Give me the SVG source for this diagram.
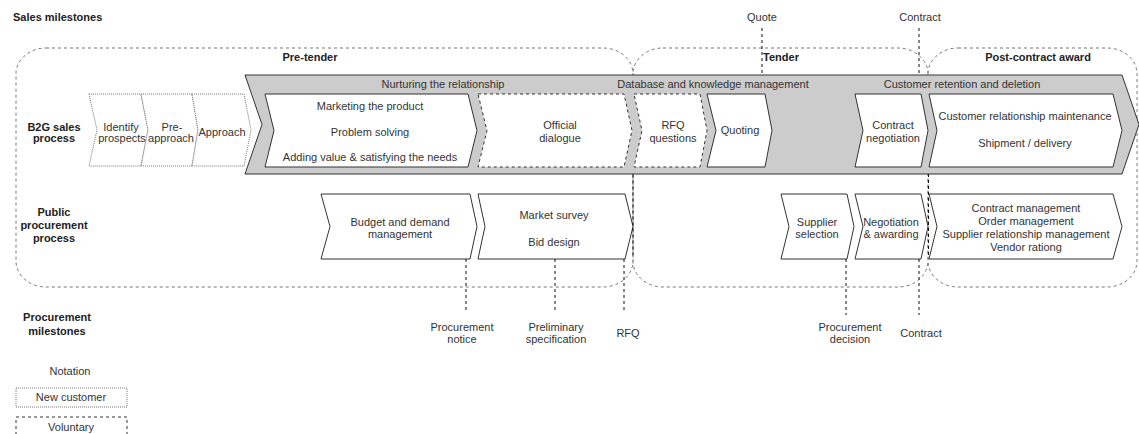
<svg xmlns="http://www.w3.org/2000/svg" width="1139" height="434" viewBox="0 0 1139 434">
  <style>
    text { font-family: "Liberation Sans", Arial, sans-serif; font-size: 11px; fill: #333; }
    .b { font-weight: bold; fill: #222; }
    .c { text-anchor: middle; }
    .region { fill: none; stroke: #777; stroke-width: 1; stroke-dasharray: 3 3; }
    .band { fill: #ccc; stroke: #333; stroke-width: 1; }
    .solid { fill: #fff; stroke: #333; stroke-width: 1; }
    .vol { fill: #fff; stroke: #333; stroke-width: 1; stroke-dasharray: 3 3; }
    .newc { fill: #fff; stroke: #777; stroke-width: 1; stroke-dasharray: 1 1; }
    .ms { fill: none; stroke: #111; stroke-width: 1; stroke-dasharray: 3 3; }
  </style>

  <!-- phase regions -->
  <g id="pre-tender">
    <rect class="region" x="16" y="48" width="617" height="239" rx="30" ry="26"/>
    <text class="b c" x="310" y="61">Pre-tender</text>
  </g>
  <g id="tender">
    <rect class="region" x="633" y="48" width="295" height="239" rx="30" ry="26"/>
    <text class="b c" x="781" y="61">Tender</text>
  </g>
  <g id="post-contract">
    <rect class="region" x="928" y="48" width="209" height="239" rx="30" ry="26"/>
    <text class="b c" x="1038" y="61">Post-contract award</text>
  </g>

  <!-- row labels -->
  <g id="row-labels">
    <text class="b" x="13" y="21">Sales milestones</text>
    <text class="b c" x="54" y="131">B2G sales</text>
    <text class="b c" x="54" y="142">process</text>
    <text class="b c" x="54" y="216">Public</text>
    <text class="b c" x="54" y="229">procurement</text>
    <text class="b c" x="54" y="242">process</text>
    <text class="b c" x="57" y="321">Procurement</text>
    <text class="b c" x="57" y="335">milestones</text>
  </g>

  <!-- new-customer steps -->
  <g id="identify-prospects">
    <polygon class="newc" points="89,94 141,94 148,130 141,166 89,166 97,130"/>
    <text class="c" x="121" y="131">Identify</text>
    <text class="c" x="122" y="142">prospects</text>
  </g>
  <g id="pre-approach">
    <polygon class="newc" points="141,94 192,94 198,130 192,166 141,166 148,130"/>
    <text class="c" x="172" y="131">Pre-</text>
    <text class="c" x="171" y="142">approach</text>
  </g>
  <g id="approach">
    <polygon class="newc" points="192,94 244,94 251,130 244,166 192,166 198,130"/>
    <text class="c" x="222" y="136">Approach</text>
  </g>

  <!-- B2G sales process band -->
  <g id="sales-band">
    <polygon class="band" points="245,75 1122,75 1139,124.5 1122,174 245,174 262,124.5"/>
    <text class="c" x="443" y="88">Nurturing the relationship</text>
    <text class="c" x="713" y="88">Database and knowledge management</text>
    <text class="c" x="962" y="88">Customer retention and deletion</text>
  </g>
  <g id="marketing">
    <polygon class="solid" points="265,94 468,94 477,130.5 468,167 265,167 274,130.5"/>
    <text class="c" x="370" y="110">Marketing the product</text>
    <text class="c" x="370" y="136">Problem solving</text>
    <text class="c" x="370" y="161">Adding value &amp; satisfying the needs</text>
  </g>
  <g id="official-dialogue">
    <polygon class="vol" points="478,94 624,94 632,130.5 624,167 478,167 487,130.5"/>
    <text class="c" x="560" y="129">Official</text>
    <text class="c" x="560" y="142">dialogue</text>
  </g>
  <g id="rfq-questions">
    <polygon class="vol" points="634,94 700,94 707,130.5 700,167 634,167 642,130.5"/>
    <text class="c" x="673" y="129">RFQ</text>
    <text class="c" x="673" y="142">questions</text>
  </g>
  <g id="quoting">
    <polygon class="solid" points="707,94 765,94 772,130.5 765,167 707,167 716,130.5"/>
    <text class="c" x="740" y="134">Quoting</text>
  </g>
  <g id="contract-negotiation">
    <polygon class="solid" points="855,94 921,94 928,130.5 921,167 855,167 863,130.5"/>
    <text class="c" x="893" y="129">Contract</text>
    <text class="c" x="893" y="142">negotiation</text>
  </g>
  <g id="customer-relationship">
    <polygon class="solid" points="929,94 1113,94 1122,130.5 1113,167 929,167 937,130.5"/>
    <text class="c" x="1025" y="120">Customer relationship maintenance</text>
    <text class="c" x="1025" y="147">Shipment / delivery</text>
  </g>

  <!-- public procurement process -->
  <g id="budget">
    <polygon class="solid" points="321,194 470,194 477,226.5 470,259 321,259 330,226.5"/>
    <text class="c" x="400" y="226">Budget and demand</text>
    <text class="c" x="400" y="238">management</text>
  </g>
  <g id="market-survey">
    <polygon class="solid" points="478,194 625,194 633,226.5 625,259 478,259 485,226.5"/>
    <text class="c" x="554" y="219">Market survey</text>
    <text class="c" x="554" y="246">Bid design</text>
  </g>
  <g id="supplier-selection">
    <polygon class="solid" points="781,194 847,194 854,226.5 847,259 781,259 789,226.5"/>
    <text class="c" x="817" y="226">Supplier</text>
    <text class="c" x="817" y="238">selection</text>
  </g>
  <g id="negotiation-awarding">
    <polygon class="solid" points="855,194 921,194 928,226.5 921,259 855,259 863,226.5"/>
    <text class="c" x="891" y="226">Negotiation</text>
    <text class="c" x="891" y="238">&amp; awarding</text>
  </g>
  <g id="contract-management">
    <polygon class="solid" points="929,194 1113,194 1122,226.5 1113,259 929,259 937,226.5"/>
    <text class="c" x="1026" y="212">Contract management</text>
    <text class="c" x="1026" y="225">Order management</text>
    <text class="c" x="1026" y="238">Supplier relationship management</text>
    <text class="c" x="1026" y="251">Vendor rationg</text>
  </g>

  <!-- milestone markers -->
  <g id="connectors">
    <line class="ms" x1="762" y1="28" x2="762" y2="75"/>
    <line class="ms" x1="919" y1="28" x2="919" y2="75"/>
    <line class="ms" x1="633" y1="174" x2="633" y2="257"/>
    <line class="ms" x1="928.5" y1="174" x2="928.5" y2="258"/>
    <line class="ms" x1="466" y1="259" x2="466" y2="313"/>
    <line class="ms" x1="555" y1="259" x2="555" y2="313"/>
    <line class="ms" x1="624" y1="259" x2="624" y2="313"/>
    <line class="ms" x1="846" y1="259" x2="846" y2="315"/>
    <line class="ms" x1="919" y1="259" x2="919" y2="315"/>
  </g>

  <g id="milestone-labels">
    <text class="c" x="762" y="21">Quote</text>
    <text class="c" x="920" y="21">Contract</text>
    <text class="c" x="462" y="331">Procurement</text>
    <text class="c" x="462" y="343">notice</text>
    <text class="c" x="556" y="331">Preliminary</text>
    <text class="c" x="556" y="343">specification</text>
    <text class="c" x="628" y="337">RFQ</text>
    <text class="c" x="850" y="331">Procurement</text>
    <text class="c" x="850" y="343">decision</text>
    <text class="c" x="921" y="337">Contract</text>
  </g>

  <!-- notation legend -->
  <g id="notation">
    <text class="c" x="70" y="375">Notation</text>
  </g>
  <g id="legend-new-customer">
    <rect class="newc" x="16" y="388" width="111" height="19"/>
    <text class="c" x="71" y="401">New customer</text>
  </g>
  <g id="legend-voluntary">
    <rect class="vol" x="16" y="417" width="111" height="24"/>
    <text class="c" x="71" y="431">Voluntary</text>
  </g>
</svg>
